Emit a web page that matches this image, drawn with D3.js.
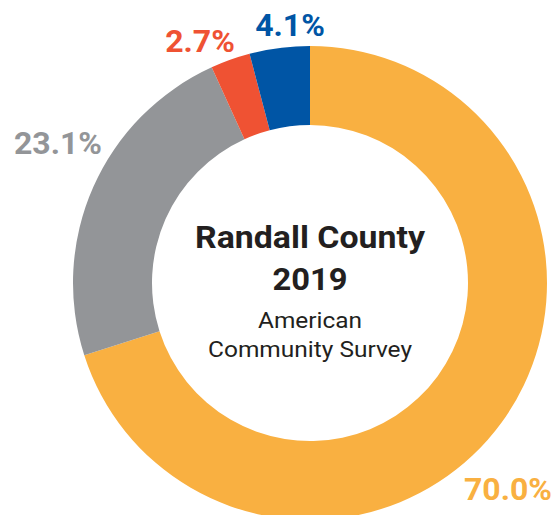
<!DOCTYPE html>
<html>
<head>
<meta charset="utf-8">
<script src="https://cdn.jsdelivr.net/npm/d3@7"></script>
<style>
  html, body { margin: 0; padding: 0; background: #fff; }
  svg { display: block; font-family: Roboto, "Noto Sans", sans-serif; }
</style>
</head>
<body>
<svg id="chart" width="558" height="515"></svg>
<script>
// Shares by category, clockwise from 12 o'clock
const categories = ["Orange", "Gray", "Red", "Blue"];
const values = [70.0, 23.1, 2.7, 4.1];
const labels = ["70.0%", "23.1%", "2.7%", "4.1%"];
const colors = ["#F9B041", "#939598", "#EF5233", "#0055A5"];

const svg = d3.select("#chart");
const cx = 310, cy = 283;
const outerR = 237, innerR = 158;

const pie = d3.pie().sort(null).value(d => d.value);
const arc = d3.arc().innerRadius(innerR).outerRadius(outerR);

const data = categories.map((c, i) => ({ name: c, value: values[i], label: labels[i], color: colors[i] }));
const arcs = pie(data);

const g = svg.append("g").attr("transform", `translate(${cx},${cy})`);
g.selectAll("path")
  .data(arcs)
  .join("path")
  .attr("d", arc)
  .attr("fill", d => d.data.color);

// Percentage labels placed outside the ring
const labelPos = {
  "Orange": { x: 508, y: 500 },
  "Gray":   { x: 58,  y: 154 },
  "Red":    { x: 200, y: 52 },
  "Blue":   { x: 290, y: 36 }
};
svg.selectAll("text.pct")
  .data(arcs)
  .join("text")
  .attr("class", "pct")
  .attr("x", d => labelPos[d.data.name].x)
  .attr("y", d => labelPos[d.data.name].y)
  .attr("text-anchor", "middle")
  .attr("font-size", 32)
  .attr("font-weight", 700)
  .attr("fill", d => d.data.color)
  .text(d => d.data.label);

// Center title
const center = svg.append("g").attr("text-anchor", "middle").attr("fill", "#231F20");
const lines = [
  { text: "Randall County", y: 248, size: 32, weight: 700, len: 230 },
  { text: "2019", y: 290, size: 32, weight: 700, len: 75 },
  { text: "American", y: 328, size: 22.5, weight: 400, len: 104 },
  { text: "Community Survey", y: 357, size: 22.5, weight: 400, len: 204 }
];
center.selectAll("text")
  .data(lines)
  .join("text")
  .attr("x", cx)
  .attr("y", d => d.y)
  .attr("font-size", d => d.size)
  .attr("font-weight", d => d.weight)
  .attr("textLength", d => d.len)
  .attr("lengthAdjust", "spacingAndGlyphs")
  .text(d => d.text);
</script>
</body>
</html>
